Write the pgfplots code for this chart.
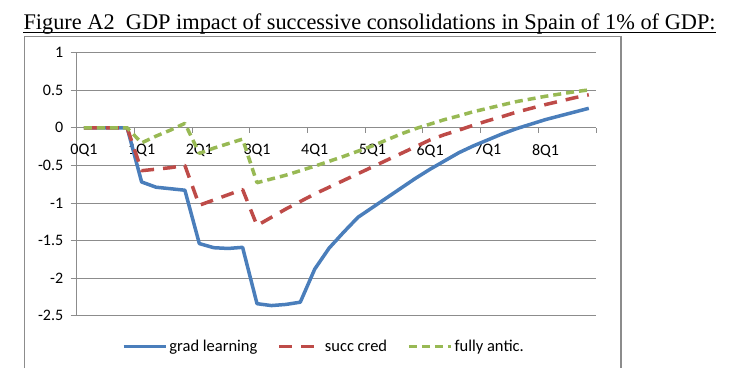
\documentclass[border=0pt]{standalone}
\usepackage{fontspec}
\setmainfont{Carlito}
\newfontfamily\titlefont{Liberation Serif}
\usepackage{pgfplots}
\pgfplotsset{compat=1.18}
\definecolor{cblue}{HTML}{4A7EBB}
\definecolor{cred}{HTML}{BE4B48}
\definecolor{cgreen}{HTML}{98B954}
\definecolor{gridgray}{HTML}{8C8C8C}
\begin{document}
\begin{tikzpicture}
\path[use as bounding box] (0pt,0pt) rectangle (730pt,-368pt);
\node[anchor=base west, inner sep=0pt, font=\titlefont\fontsize{22.35}{25}\selectfont] (t) at (23.3pt,-29.3pt) {Figure A2\ \ GDP impact of successive consolidations in Spain of 1\% of GDP:};
\draw[line width=1.1pt] ([yshift=-3pt]t.base west) -- ([yshift=-3pt]t.base east);
\draw[gridgray, line width=1.4pt] (24.3pt,-368pt) -- (24.3pt,-36.7pt) -- (621pt,-36.7pt) -- (621pt,-368pt);
\begin{axis}[
 at={(76.7pt,-315.7pt)}, anchor=south west,
 scale only axis, width=519.3pt, height=263pt,
 xmin=-0.5, xmax=35.5, ymin=-2.5, ymax=1,
 axis y line*=left, axis x line*=middle,
 axis line style={gridgray, line width=0.9pt},
 ytick={-2.5,-2,-1.5,-1,-0.5,0,0.5,1},
 yticklabels={-2.5,-2,-1.5,-1,-0.5,0,0.5,1},
 xtick={0,4,...,32},
 xticklabels={0Q1,1Q1,2Q1,3Q1,4Q1,5Q1,6Q1,7Q1,8Q1},
 minor xtick={3.5,7.5,...,35.5},
 major x tick style={draw=none},
 tick align=outside,
 major tick length=6pt, minor tick length=5pt,
 tick style={gridgray, line width=0.9pt},
 minor tick style={gridgray, line width=0.9pt},
 ymajorgrids, grid style={gridgray, line width=0.9pt},
 ticklabel style={font=\fontsize{16}{18}\selectfont, text=black},
 xticklabel style={yshift=-7pt},
 yticklabel style={xshift=-4pt},
 legend style={at={(0.476,-0.118)}, anchor=center, draw=none, fill=none,
   legend columns=3, font=\fontsize{16.5}{18}\selectfont,
   /tikz/every even column/.append style={column sep=18pt}},
 legend image code/.code={\draw[#1] (0pt,0pt) -- (42pt,0pt);},
]
\addplot[cblue, line width=3.5pt, line join=round] coordinates {
(0,0)(1,0)(2,0)(3,0)(4,-0.72)(5,-0.79)(6,-0.81)(7,-0.83)(8,-1.54)(9,-1.595)(10,-1.605)(11,-1.59)
(12,-2.34)(13,-2.365)(14,-2.35)(15,-2.32)(16,-1.88)(17,-1.60)(18,-1.39)(19,-1.19)(20,-1.06)(21,-0.93)
(22,-0.80)(23,-0.67)(24,-0.55)(25,-0.44)(26,-0.33)(27,-0.24)(28,-0.16)(29,-0.08)(30,-0.01)(31,0.05)
(32,0.11)(33,0.16)(34,0.21)(35,0.26)};
\addlegendentry{grad learning}
\addplot[cred, line width=3.5pt, line join=round, dash pattern=on 13pt off 9pt] coordinates {
(0,0)(1,0)(2,0)(3,0)(4,-0.57)(5,-0.55)(6,-0.53)(7,-0.50)(8,-1.03)(9,-0.96)(10,-0.89)(11,-0.82)
(12,-1.30)(13,-1.19)(14,-1.08)(15,-0.98)(16,-0.88)(17,-0.79)(18,-0.70)(19,-0.61)(20,-0.52)(21,-0.43)
(22,-0.34)(23,-0.25)(24,-0.16)(25,-0.09)(26,-0.03)(27,0.035)(28,0.095)(29,0.15)(30,0.21)(31,0.26)
(32,0.31)(33,0.355)(34,0.40)(35,0.44)};
\addlegendentry{succ cred}
\addplot[cgreen, line width=3.5pt, line join=round, dash pattern=on 8pt off 5pt] coordinates {
(0,0)(1,0)(2,0)(3,0)(4,-0.20)(5,-0.11)(6,-0.03)(7,0.06)(8,-0.34)(9,-0.27)(10,-0.21)(11,-0.15)
(12,-0.73)(13,-0.68)(14,-0.63)(15,-0.57)(16,-0.51)(17,-0.445)(18,-0.38)(19,-0.31)(20,-0.24)(21,-0.16)
(22,-0.08)(23,-0.01)(24,0.05)(25,0.11)(26,0.16)(27,0.215)(28,0.26)(29,0.305)(30,0.35)(31,0.385)
(32,0.42)(33,0.45)(34,0.48)(35,0.505)};
\addlegendentry{fully antic.}
\end{axis}
\end{tikzpicture}
\end{document}
